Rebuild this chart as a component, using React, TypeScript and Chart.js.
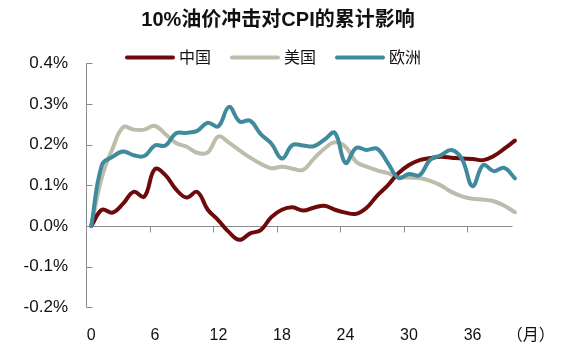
import React, { useEffect, useRef } from "react";
import { Chart, registerables } from "chart.js";

Chart.register(...registerables);

const TITLE = "10%油价冲击对CPI的累计影响";
const SERIES_NAMES = ["中国", "美国", "欧洲"];
const SERIES_COLORS = ["#6E0A0B", "#BEBCAA", "#3F8A9D"];
const X_UNIT = "（月）";

const MONTHS = [
  0, 1, 2, 3, 4, 5, 6, 7, 8, 9, 10, 11, 12, 13, 14, 15, 16, 17, 18, 19, 20,
  21, 22, 23, 24, 25, 26, 27, 28, 29, 30, 31, 32, 33, 34, 35, 36, 37, 38, 39, 40,
];

const CHINA = [
  0, 0.04, 0.033, 0.055, 0.084, 0.072, 0.14, 0.125, 0.09, 0.07, 0.084, 0.04,
  0.014, -0.015, -0.034, -0.018, -0.01, 0.022, 0.04, 0.046, 0.038, 0.045, 0.05,
  0.04, 0.033, 0.03, 0.045, 0.075, 0.1, 0.13, 0.15, 0.162, 0.167, 0.17, 0.168,
  0.166, 0.165, 0.162, 0.172, 0.19, 0.21,
];

const USA = [
  0, 0.12, 0.19, 0.243, 0.237, 0.237, 0.246, 0.226, 0.204, 0.195, 0.18, 0.181,
  0.22, 0.205, 0.186, 0.168, 0.153, 0.142, 0.146, 0.141, 0.138, 0.165, 0.19,
  0.206, 0.195, 0.158, 0.146, 0.137, 0.13, 0.121, 0.119, 0.118, 0.111, 0.1,
  0.084, 0.073, 0.067, 0.065, 0.061, 0.05, 0.034,
];

const EUROPE = [
  0, 0.15, 0.17, 0.183, 0.174, 0.172, 0.198, 0.198, 0.228, 0.229, 0.234, 0.254,
  0.245, 0.293, 0.257, 0.259, 0.226, 0.203, 0.166, 0.199, 0.198, 0.196, 0.212,
  0.229, 0.155, 0.192, 0.187, 0.19, 0.155, 0.118, 0.128, 0.125, 0.163, 0.174,
  0.187, 0.165, 0.098, 0.15, 0.135, 0.143, 0.117,
];

const X_LABEL_TICKS = [0, 6, 12, 18, 24, 30, 36];
const X_UNIT_POS = 41.5;
const X_TICK_MARKS = [5.5, 11.5, 17.5, 23.5, 29.5, 35.5];
const X_MIN = -0.5;
const X_MAX = 41.5;
const X_AXIS_END = 39.7;
const Y_MIN = -0.2;
const Y_MAX = 0.4;
const Y_TICKS = [-0.2, -0.1, 0, 0.1, 0.2, 0.3, 0.4];

const FONT_FAMILY = '"Liberation Sans", Arial, "Noto Sans CJK SC", sans-serif';
const AXIS_COLOR = "#8C8C8C";

const decorPlugin = {
  id: "decor",
  beforeDatasetsDraw(chart: any) {
    const { ctx, chartArea, scales } = chart;
    const x = scales.x;
    const y = scales.y;
    ctx.save();
    ctx.strokeStyle = AXIS_COLOR;
    ctx.lineWidth = 1;
    const lx = Math.round(chartArea.left) + 0.5;
    ctx.beginPath();
    ctx.moveTo(lx, Math.round(y.getPixelForValue(Y_MAX)) + 0.5);
    ctx.lineTo(lx, Math.round(y.getPixelForValue(Y_MIN)) + 0.5);
    for (const v of Y_TICKS) {
      const py = Math.round(y.getPixelForValue(v)) + 0.5;
      ctx.moveTo(lx, py);
      ctx.lineTo(lx + 6, py);
    }
    const zy = Math.round(y.getPixelForValue(0)) + 0.5;
    ctx.moveTo(lx, zy);
    ctx.lineTo(Math.round(x.getPixelForValue(X_AXIS_END)) + 0.5, zy);
    for (const m of X_TICK_MARKS) {
      const px = Math.round(x.getPixelForValue(m)) + 0.5;
      ctx.moveTo(px, zy);
      ctx.lineTo(px, zy + 6);
    }
    ctx.stroke();
    ctx.restore();
  },
  afterDraw(chart: any) {
    const { ctx } = chart;
    ctx.save();
    ctx.fillStyle = "#111";
    ctx.font = `bold 20px ${FONT_FAMILY}`;
    ctx.textAlign = "center";
    ctx.textBaseline = "middle";
    ctx.fillText(TITLE, 278, 20);

    ctx.font = `16px ${FONT_FAMILY}`;
    ctx.textAlign = "left";
    let cx = 127;
    const ly = 57.5;
    SERIES_NAMES.forEach((name, i) => {
      ctx.strokeStyle = SERIES_COLORS[i];
      ctx.lineWidth = 4;
      ctx.lineCap = "round";
      ctx.beginPath();
      ctx.moveTo(cx, ly);
      ctx.lineTo(cx + 46, ly);
      ctx.stroke();
      ctx.fillStyle = "#111";
      ctx.fillText(name, cx + 52, ly + 1);
      cx += 52 + ctx.measureText(name).width + 21;
    });
    ctx.restore();
  },
};

export default function App() {
  const ref = useRef<HTMLCanvasElement | null>(null);
  useEffect(() => {
    if (!ref.current) return;
    const seriesValues = [CHINA, USA, EUROPE];
    const drawOrder = [1, 2, 0];
    const chart = new Chart(ref.current, {
      type: "line",
      data: {
        datasets: SERIES_NAMES.map((name, i) => ({
          label: name,
          data: MONTHS.map((m, j) => ({ x: m, y: seriesValues[i][j] })),
          borderColor: SERIES_COLORS[i],
          backgroundColor: SERIES_COLORS[i],
          borderWidth: 4,
          pointRadius: 0,
          tension: 0.4,
          borderCapStyle: "round",
          borderJoinStyle: "round",
          order: drawOrder[i],
        })),
      },
      options: {
        animation: false,
        responsive: false,
        events: [],
        layout: { padding: { left: 24, right: 55.2, top: 63.3, bottom: 0 } },
        plugins: {
          legend: { display: false },
          title: { display: false },
          tooltip: { enabled: false },
        },
        scales: {
          x: {
            type: "linear",
            min: X_MIN,
            max: X_MAX,
            grid: { display: false, drawTicks: false },
            border: { display: false },
            afterBuildTicks: (scale: any) => {
              scale.ticks = [...X_LABEL_TICKS, X_UNIT_POS].map((v) => ({ value: v }));
            },
            afterFit: (scale: any) => {
              scale.height = 51.6;
            },
            ticks: {
              autoSkip: false,
              maxRotation: 0,
              padding: 19,
              color: "#111",
              font: { family: FONT_FAMILY, size: 16 },
              callback: (v: any) => (v === X_UNIT_POS ? X_UNIT : String(v)),
            },
          },
          y: {
            min: Y_MIN,
            max: Y_MAX,
            grid: { display: false, drawTicks: false },
            border: { display: false },
            afterBuildTicks: (scale: any) => {
              scale.ticks = Y_TICKS.map((v) => ({ value: v }));
            },
            afterFit: (scale: any) => {
              scale.width = 62;
            },
            ticks: {
              padding: 18,
              color: "#111",
              font: { family: FONT_FAMILY, size: 17 },
              callback: (v: any) => `${Number(v).toFixed(1)}%`,
            },
          },
        },
      },
      plugins: [decorPlugin],
    } as any);
    return () => chart.destroy();
  }, []);
  return (
    <div style={{ position: "fixed", left: 0, top: 0, width: 586, height: 359, background: "#fff" }}>
      <canvas ref={ref} width={586} height={359} />
    </div>
  );
}
